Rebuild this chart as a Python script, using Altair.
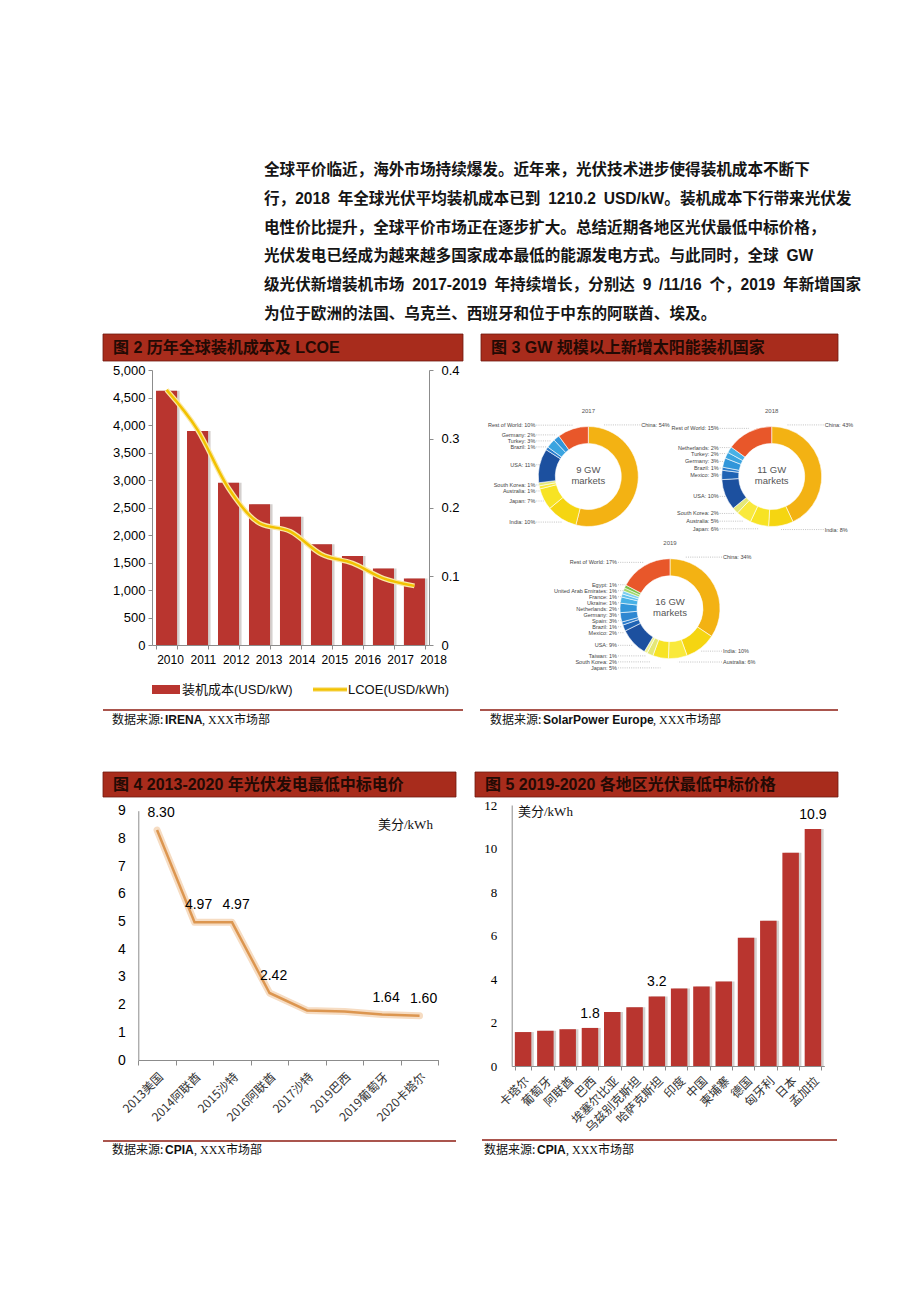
import altair as alt
import pandas as pd

# ------------------------------------------------------------------ data
PARA_LINES = [
    "全球平价临近，海外市场持续爆发。近年来，光伏技术进步使得装机成本不断下",
    "行，2018\u2002年全球光伏平均装机成本已到\u20021210.2\u2002USD/kW。装机成本下行带来光伏发",
    "电性价比提升，全球平价市场正在逐步扩大。总结近期各地区光伏最低中标价格，",
    "光伏发电已经成为越来越多国家成本最低的能源发电方式。与此同时，全球\u2002GW",
    "级光伏新增装机市场\u20022017-2019\u2002年持续增长，分别达\u20029\u2002/11/16\u2002个，2019\u2002年新增国家",
    "为位于欧洲的法国、乌克兰、西班牙和位于中东的阿联酋、埃及。",
]

TITLE2 = "图 2 历年全球装机成本及 LCOE"
TITLE3 = "图 3 GW 规模以上新增太阳能装机国家"
TITLE4 = "图 4 2013-2020 年光伏发电最低中标电价"
TITLE5 = "图 5 2019-2020 各地区光伏最低中标价格"

SRC_HEAD = "数据来源:"
SRC2 = "IRENA"
SRC3 = "SolarPower Europe"
SRC4 = "CPIA"
SRC5 = "CPIA"
SRC_TAIL = ", XXX市场部"

YEARS2 = ["2010", "2011", "2012", "2013", "2014", "2015", "2016", "2017", "2018"]
COST2 = [4621, 3890, 2950, 2560, 2330, 1830, 1620, 1390, 1210]
LCOE2 = [0.371, 0.313, 0.228, 0.177, 0.165, 0.132, 0.119, 0.097, 0.086]
LEG2 = ["装机成本(USD/kW)", "LCOE(USD/kWh)"]

CAT4 = ["2013美国", "2014阿联酋", "2015沙特", "2016阿联酋", "2017沙特", "2019巴西", "2019葡萄牙", "2020卡塔尔"]
VAL4 = [8.30, 4.97, 4.97, 2.42, 1.79, 1.75, 1.64, 1.60]
LAB4 = ["8.30", "4.97", "4.97", "2.42", "", "", "1.64", "1.60"]

CAT5 = ["卡塔尔", "葡萄牙", "阿联酋", "巴西", "埃塞尔比亚", "乌兹别克斯坦", "哈萨克斯坦",
        "印度", "中国", "柬埔寨", "德国", "匈牙利", "日本", "孟加拉"]
VAL5 = [1.56, 1.62, 1.69, 1.75, 2.48, 2.70, 3.20, 3.56, 3.65, 3.88, 5.90, 6.68, 9.81, 10.9]
LAB5 = ["", "", "", "1.8", "", "", "3.2", "", "", "", "", "", "", "10.9"]

UNIT = "美分/kWh"

D17_NAMES = ["China", "India", "Japan", "Australia", "South Korea", "USA", "Brazil", "Turkey",
             "Germany", "Rest of World"]
D17_PCT = [54, 10, 7, 1, 1, 11, 1, 3, 2, 10]
D18_NAMES = ["China", "India", "Japan", "Australia", "South Korea", "USA", "Mexico", "Brazil",
             "Germany", "Turkey", "Netherlands", "Rest of World"]
D18_PCT = [43, 8, 6, 5, 2, 10, 3, 1, 3, 2, 2, 15]
D19_NAMES = ["China", "India", "Australia", "Japan", "South Korea", "Taiwan", "USA", "Mexico",
             "Brazil", "Spain", "Germany", "Netherlands", "Ukraine", "France",
             "United Arab Emirates", "Egypt", "Rest of World"]
D19_PCT = [34, 10, 6, 5, 2, 1, 9, 2, 1, 3, 3, 2, 1, 1, 1, 1, 17]
DONUT_YEARS = ["2017", "2018", "2019"]
DONUT_GW = ["9 GW", "11 GW", "16 GW"]
DONUT_SUB = "markets"

# ------------------------------------------------------------------ style / layout
W, H = 920, 1302
SANS = "Liberation Sans, Noto Sans CJK SC"
CJK = "Noto Sans CJK SC"
SERIF = "Liberation Serif, Noto Sans CJK SC"
HDR_FILL = "#a82c1c"
HDR_TEXT = "#230a04"
SRC_LINE = "#8e1d12"
BAR = "#b9352f"
SHADOW = "#c9c4c2"
AXC = "#8c8c8c"
LCOE_C = "#f2c200"
LCOE_HALO = "#f9e7a6"
L4_C = "#dc9650"
L4_HALO = "#f6dcc2"

DONUT_COLORS = {
    "China": "#f3b213", "India": "#f5d511", "Japan": "#f7e324", "Australia": "#f9e93c",
    "South Korea": "#e4e777", "Taiwan": "#eef08f", "USA": "#1c509f", "Mexico": "#1f63b4",
    "Brazil": "#2a7ccc", "Spain": "#2e87d1", "Germany": "#3196da", "Turkey": "#3aa4e0",
    "Netherlands": "#47b1e6", "Ukraine": "#5dc0ec", "France": "#7acdef",
    "United Arab Emirates": "#a3d86c", "Egypt": "#7cc24a", "Rest of World": "#e8572a",
}

ONE = pd.DataFrame({"k": [0]})


def txt(t, x, y, size, font=SANS, weight="normal", color="#000", align="left", baseline="middle"):
    return alt.Chart(ONE).mark_text(
        align=align, baseline=baseline, fontSize=size, font=font, fontWeight=weight, color=color
    ).encode(x=alt.value(x), y=alt.value(y), text=alt.value(t))


def box(x0, x1, y0, y1, color, stroke=None):
    kw = {"color": color}
    if stroke:
        kw.update(stroke=stroke, strokeWidth=0.8)
    return alt.Chart(ONE).mark_rect(**kw).encode(
        x=alt.value(x0), x2=alt.value(x1), y=alt.value(y0), y2=alt.value(y1))


def hline(x0, x1, y, color, width):
    return alt.Chart(ONE).mark_rule(color=color, strokeWidth=width).encode(
        x=alt.value(x0), x2=alt.value(x1), y=alt.value(y))


layers = []

# ------------------------------------------------------------------ paragraph
dfp = pd.DataFrame({"line": list(range(len(PARA_LINES))), "text": PARA_LINES})
layers.append(
    alt.Chart(dfp).mark_text(align="left", baseline="middle", fontSize=15.6, font=SANS,
                             fontWeight="bold", color="#151515").encode(
        x=alt.value(264),
        y=alt.Y("line:O", scale=alt.Scale(type="point", range=[170, 314], padding=0), axis=None),
        text="text:N")
)

# ------------------------------------------------------------------ headers & sources
for (x0, x1, y0, y1, t) in [(103, 463, 334, 361, TITLE2), (481, 838, 334, 361, TITLE3),
                            (103, 456, 772, 797, TITLE4), (475, 838, 772, 797, TITLE5)]:
    layers.append(box(x0, x1, y0, y1, HDR_FILL, stroke="#6e1a10"))
    layers.append(txt(t, x0 + 10, (y0 + y1) / 2, 16, weight="bold", color=HDR_TEXT))

for (x0, x1, ly, ty, name, xn, xt) in [
    (103, 463, 710, 720, SRC2, 165, 202),
    (480, 838, 710, 720, SRC3, 543, 653),
    (103, 456, 1141, 1150, SRC4, 165, 194),
    (482, 837, 1140, 1150, SRC5, 537, 566),
]:
    layers.append(hline(x0, x1, ly, SRC_LINE, 1.3))
    layers.append(txt(SRC_HEAD, xn - 53, ty, 12, font=CJK, color="#111"))
    layers.append(txt(name, xn, ty, 12, font=SANS, weight="bold", color="#111"))
    layers.append(txt(SRC_TAIL, xt, ty, 12, font=SERIF, color="#111"))

# ------------------------------------------------------------------ chart 2
C2X0, C2X1, C2Y0, C2Y1 = 152, 429, 645, 370
df2 = pd.DataFrame({"year": YEARS2, "cost": COST2, "lcoe": LCOE2})
x2 = alt.X("year:N", title=None,
           scale=alt.Scale(domain=YEARS2, range=[C2X0, C2X1], paddingInner=0.32, paddingOuter=0.13),
           axis=alt.Axis(orient="bottom", offset=C2Y0 - H, labels=False, tickBand="extent",
                         tickSize=4, tickColor=AXC, domainColor=AXC, grid=False))
cost_scale = alt.Scale(domain=[0, 5000], range=[C2Y0, C2Y1], nice=False)
lcoe_scale = alt.Scale(domain=[0, 0.4], range=[C2Y0, C2Y1], nice=False)
b2 = alt.Chart(df2)
c2 = alt.layer(
    b2.mark_bar(color=SHADOW, xOffset=2.5, opacity=0.8).encode(
        x=x2, y=alt.Y("cost:Q", scale=cost_scale, axis=None)),
    b2.mark_bar(color=BAR).encode(
        x=x2,
        y=alt.Y("cost:Q", title=None, scale=cost_scale,
                axis=alt.Axis(orient="left", offset=-C2X0, values=list(range(0, 5001, 500)),
                              format=",.0f", labelFont="Liberation Sans", labelFontSize=13,
                              labelColor="#000", tickSize=4, tickColor=AXC, domainColor=AXC,
                              labelPadding=3, grid=False))),
    b2.mark_line(color=LCOE_HALO, strokeWidth=5, interpolate="monotone").encode(
        x=x2, y=alt.Y("lcoe:Q", scale=lcoe_scale, axis=None)),
    b2.mark_line(color=LCOE_C, strokeWidth=2.5, interpolate="monotone").encode(
        x=x2,
        y=alt.Y("lcoe:Q", title=None, scale=lcoe_scale,
                axis=alt.Axis(orient="right", offset=C2X1 - W, values=[0, 0.1, 0.2, 0.3, 0.4],
                              format=".1~f", labelFont="Liberation Sans", labelFontSize=13,
                              labelColor="#000", tickSize=4, tickColor=AXC, domainColor=AXC,
                              labelPadding=8, grid=False))),
).resolve_scale(y="independent")
layers.append(c2)

# year labels of chart 2
layers.append(
    alt.Chart(df2).mark_point(opacity=0).encode(
        x=alt.X("year:N", title=None,
                scale=alt.Scale(type="point", domain=YEARS2, range=[170, 433], padding=0),
                axis=alt.Axis(orient="bottom", offset=C2Y0 - H, domain=False, ticks=False,
                              labelAngle=0, labelAlign="center", labelBaseline="top",
                              labelPadding=9, labelFont="Liberation Sans", labelFontSize=12,
                              labelColor="#000", labelOverlap=False, grid=False)),
        y=alt.value(C2Y0))
)

# legend of chart 2
layers.append(box(152, 180, 685, 694, BAR))
layers.append(txt(LEG2[0], 182, 689.5, 13, color="#111"))
layers.append(hline(313, 347, 689.5, LCOE_HALO, 5))
layers.append(hline(313, 347, 689.5, LCOE_C, 2.5))
layers.append(txt(LEG2[1], 348, 689.5, 13, color="#111"))

# ------------------------------------------------------------------ chart 3 donuts
R_OUT, R_IN, R_LAB = 50, 33, 54
GAP = 6.0 / R_LAB   # minimum label spacing, in units of the label y scale


def donut(names, pcts, cx, cy, year, gw):
    df = pd.DataFrame({"name": names, "pct": pcts, "idx": list(range(len(names)))})
    base = alt.Chart(df)
    arc = base.mark_arc(outerRadius=R_OUT, innerRadius=R_IN, stroke="white", strokeWidth=0.6).encode(
        theta=alt.Theta("pct:Q", stack=True),
        order=alt.Order("idx:Q"),
        color=alt.Color("name:N", legend=None,
                        scale=alt.Scale(domain=names, range=[DONUT_COLORS[n] for n in names])),
        x=alt.value(cx), y=alt.value(cy))
    lab = base.transform_window(
        cum="sum(pct)", sort=[alt.SortField("idx")], frame=[None, 0]
    ).transform_joinaggregate(tot="sum(pct)").transform_calculate(
        ang="datum.idx == 0 ? 0.3 : (datum.cum - datum.pct / 2) / datum.tot * 2 * PI"
    ).transform_calculate(
        d="-cos(datum.ang)", sv="sin(datum.ang)",
        txt="datum.name + ': ' + datum.pct + '%'",
    ).transform_calculate(lx="datum.sv < 0 ? -1.04 : 1.04")

    ysc = alt.Y("cvf:Q", scale=alt.Scale(domain=[-1, 1], range=[cy + R_LAB, cy - R_LAB], nice=False),
                axis=None)
    xsc = alt.X("lx:Q", scale=alt.Scale(domain=[-1, 1], range=[cx - R_OUT, cx + R_OUT], nice=False),
                axis=None)
    parts = [arc]
    for cond, align, xpos in [("datum.sv < 0", "right", cx - R_OUT - 3),
                              ("datum.sv >= 0", "left", cx + R_OUT + 3)]:
        # push overlapping labels downward: y_i = max_j<=i (raw_j + gap*(i-j))
        side = lab.transform_filter(cond).transform_window(
            i="row_number()", sort=[alt.SortField("d")]
        ).transform_calculate(v=f"datum.d - {GAP} * datum.i").transform_window(
            vmax="max(v)", sort=[alt.SortField("d")], frame=[None, 0]
        ).transform_calculate(cvf=f"-({GAP} * datum.i + datum.vmax)")
        parts.append(side.mark_rule(color="#9a9a9a", strokeWidth=0.6, strokeDash=[1, 1.2]).encode(
            x=xsc, x2="sv:Q", y=ysc))
        parts.append(side.mark_text(align=align, baseline="middle", fontSize=5.5,
                                    font="Liberation Sans", color="#444").encode(
            x=alt.value(xpos), y=ysc, text="txt:N"))
    return [alt.layer(*parts),
            txt(year, cx, cy - 66, 6, font="Liberation Sans", color="#555", align="center"),
            txt(gw, cx, cy - 6.5, 9.5, font="Liberation Sans", color="#555", align="center"),
            txt(DONUT_SUB, cx, cy + 4.5, 9.5, font="Liberation Sans", color="#555", align="center")]


layers += donut(D17_NAMES, D17_PCT, 588.3, 476.5, DONUT_YEARS[0], DONUT_GW[0])
layers += donut(D18_NAMES, D18_PCT, 771.7, 476.5, DONUT_YEARS[1], DONUT_GW[1])
layers += donut(D19_NAMES, D19_PCT, 670.0, 608.7, DONUT_YEARS[2], DONUT_GW[2])

# ------------------------------------------------------------------ chart 4
C4X0, C4X1, C4Y0, C4Y1 = 138.3, 438.3, 1060, 810.7
df4 = pd.DataFrame({"cat": CAT4, "val": VAL4, "lab": LAB4})
x4 = alt.X("cat:N", title=None,
           scale=alt.Scale(domain=CAT4, range=[C4X0, C4X1], paddingInner=0, paddingOuter=0),
           axis=alt.Axis(orient="bottom", offset=C4Y0 - H, labelAngle=-45, tickBand="extent",
                         tickSize=5, labelPadding=6, tickColor=AXC, domainColor=AXC,
                         labelFont=CJK, labelFontSize=12, labelColor="#333",
                         labelOverlap=False, grid=False))
y4 = alt.Y("val:Q", title=None, scale=alt.Scale(domain=[0, 9], range=[C4Y0, C4Y1], nice=False),
           axis=alt.Axis(orient="left", offset=-C4X0, values=list(range(10)), ticks=False,
                         labelPadding=13, labelFont="Liberation Sans", labelFontSize=14,
                         labelColor="#000", domainColor=AXC, grid=False))
b4 = alt.Chart(df4)
layers.append(alt.layer(
    b4.mark_line(color=L4_HALO, strokeWidth=7, strokeJoin="round", strokeCap="round").encode(x=x4, y=y4),
    b4.mark_line(color=L4_C, strokeWidth=2.5).encode(x=x4, y=y4),
    b4.transform_filter("datum.lab != ''").mark_text(
        dx=4, dy=-17, fontSize=14, font="Liberation Sans", color="#000").encode(
        x=x4, y=y4, text="lab:N"),
))
layers.append(txt(UNIT, 378, 825, 13, font=SERIF, color="#111"))

# ------------------------------------------------------------------ chart 5
C5X0, C5X1, C5Y0, C5Y1 = 511.7, 824.3, 1066, 805
df5 = pd.DataFrame({"cat": CAT5, "val": VAL5, "lab": LAB5})
x5 = alt.X("cat:N", title=None,
           scale=alt.Scale(domain=CAT5, range=[C5X0, C5X1], paddingInner=0.26, paddingOuter=0.14),
           axis=alt.Axis(orient="bottom", offset=C5Y0 - H, labelAngle=-45, tickBand="extent",
                         tickSize=4, labelPadding=5, tickColor=AXC, domainColor=AXC,
                         labelFont=CJK, labelFontSize=12, labelColor="#333",
                         labelOverlap=False, grid=False))
y5_scale = alt.Scale(domain=[0, 12], range=[C5Y0, C5Y1], nice=False)
y5 = alt.Y("val:Q", title=None, scale=y5_scale,
           axis=alt.Axis(orient="left", offset=-C5X0, values=list(range(0, 13, 2)), ticks=False,
                         labelPadding=15, labelFont="Liberation Serif", labelFontSize=13,
                         labelColor="#000", domainColor=AXC, grid=False))
b5 = alt.Chart(df5)
layers.append(alt.layer(
    b5.mark_bar(color=SHADOW, xOffset=2.5, opacity=0.8).encode(x=x5, y=y5),
    b5.mark_bar(color=BAR).encode(x=x5, y=y5),
    b5.transform_filter("datum.lab != ''").mark_text(
        dy=-14, fontSize=14, font="Liberation Sans", color="#000").encode(
        x=x5, y=y5, text="lab:N"),
))
layers.append(txt(UNIT, 518, 812, 13, font=SERIF, color="#111"))

# ------------------------------------------------------------------ assemble
chart = alt.layer(*layers).resolve_scale(
    x="independent", y="independent", color="independent", theta="independent"
).properties(
    width=W, height=H, autosize=alt.AutoSizeParams(type="none"), padding=0, background="white"
).configure_view(strokeWidth=0)

chart.save("out.html", embed_options={"renderer": "svg", "actions": False})
